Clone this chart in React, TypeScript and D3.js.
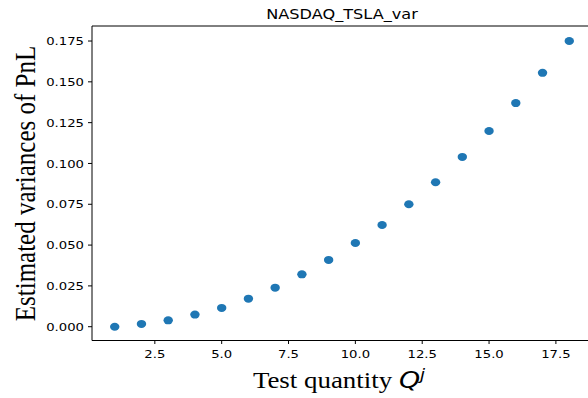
import React from "react";
import * as d3 from "d3";

const quantities = [1, 2, 3, 4, 5, 6, 7, 8, 9, 10, 11, 12, 13, 14, 15, 16, 17, 18];
const variances = [
  0.0, 0.0017, 0.0039, 0.0074, 0.0115, 0.0172, 0.0239, 0.0321, 0.0409,
  0.0513, 0.0623, 0.075, 0.0885, 0.104, 0.1199, 0.137, 0.1555, 0.175,
];
const xTicks = [2.5, 5.0, 7.5, 10.0, 12.5, 15.0, 17.5];
const yTicks = [0.0, 0.025, 0.05, 0.075, 0.1, 0.125, 0.15, 0.175];
const title = "NASDAQ_TSLA_var";
const xLabel = "Test quantity ";
const yLabel = "Estimated variances of PnL";

const W = 588;
const H = 398;
const SX = 1.17;
const left = 92;
const right = 592;
const top = 26;
const bottom = 340.5;

export default function App() {
  const x = d3.scaleLinear().domain([0.15, 18.85]).range([left, right]);
  const y = d3.scaleLinear().domain([-0.00845, 0.1842]).range([bottom, top]);
  const sans = "'DejaVu Sans', sans-serif";
  const serif = "'Liberation Serif', 'Times New Roman', serif";
  return (
    <svg
      width={W}
      height={H}
      style={{ position: "fixed", left: 0, top: 0, background: "#fff" }}
    >
      <rect x={0} y={0} width={W} height={H} fill="#fff" />
      {quantities.map((q, i) => (
        <ellipse
          key={i}
          cx={x(q)}
          cy={y(variances[i])}
          rx={4.7}
          ry={4.0}
          fill="#1f77b4"
        />
      ))}
      <g stroke="#000" strokeWidth={1} fill="none">
        <line x1={left} y1={top} x2={left} y2={bottom} />
        <line x1={left} y1={bottom} x2={right} y2={bottom} />
        <line x1={left} y1={top} x2={right} y2={top} />
        <line x1={right} y1={top} x2={right} y2={bottom} />
      </g>
      {yTicks.map((t) => (
        <g key={"y" + t}>
          <line x1={left - 4} x2={left} y1={y(t)} y2={y(t)} stroke="#000" strokeWidth={1} />
          <text
            transform={`translate(${left - 8},${y(t) + 4.1}) scale(${SX},1)`}
            textAnchor="end"
            fontFamily={sans}
            fontSize={11.3}
            fill="#000"
          >
            {d3.format(".3f")(t)}
          </text>
        </g>
      ))}
      {xTicks.map((t) => (
        <g key={"x" + t}>
          <line x1={x(t)} x2={x(t)} y1={bottom} y2={bottom + 3.5} stroke="#000" strokeWidth={1} />
          <text
            transform={`translate(${x(t)},${bottom + 17}) scale(${SX},1)`}
            textAnchor="middle"
            fontFamily={sans}
            fontSize={11.3}
            fill="#000"
          >
            {d3.format(".1f")(t)}
          </text>
        </g>
      ))}
      <text
        transform={`translate(${(left + right) / 2},19.3) scale(${SX},1)`}
        textAnchor="middle"
        fontFamily={sans}
        fontSize={13.8}
        fill="#000"
      >
        {title}
      </text>
      <text
        transform={`translate(339,388) scale(${SX},1)`}
        textAnchor="middle"
        fontFamily={serif}
        fontSize={23}
        fill="#000"
      >
        {xLabel}
        <tspan fontFamily={sans} fontStyle="italic">Q</tspan>
        <tspan fontFamily={sans} fontStyle="italic" fontSize={15.5} dy={-8}>j</tspan>
      </text>
      <text
        transform={`translate(35,183.5) scale(${SX},1) rotate(-90)`}
        textAnchor="middle"
        fontFamily={serif}
        fontSize={25}
        fill="#000"
      >
        {yLabel}
      </text>
    </svg>
  );
}
